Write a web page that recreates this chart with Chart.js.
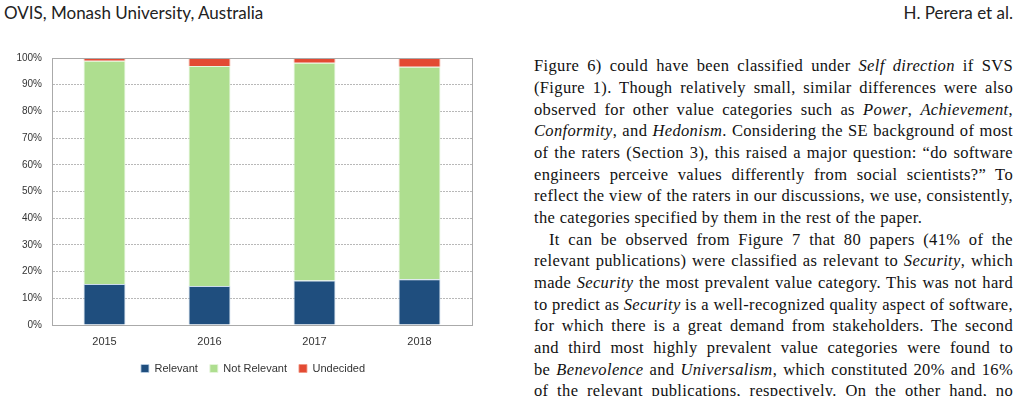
<!DOCTYPE html>
<html>
<head>
<meta charset="utf-8">
<script src="https://cdn.jsdelivr.net/npm/chart.js@4"></script>
<style>
  html, body { margin: 0; padding: 0; background: #fff; }
  body { width: 1022px; height: 396px; position: relative; overflow: hidden; }
  .hdr { position: absolute; top: 2px; font-family: Lato, sans-serif; font-size: 17px; color: #222; }
  #chartBox { position: absolute; left: 0; top: 42px; width: 506px; height: 342px; }
  #text { position: absolute; left: 534px; top: 55.3px; width: 479px;
          font-family: "Liberation Serif", serif; font-size: 16.5px; letter-spacing: 0.35px;
          line-height: 21.67px; color: #111; }
  #text div { white-space: nowrap; text-align: justify; text-align-last: justify; }
  #text div.last { text-align-last: left; }
  #text div.ind { text-indent: 15px; }
</style>
</head>
<body>
<div class="hdr" style="left:4px">OVIS, Monash University, Australia</div>
<div class="hdr" style="right:9px">H. Perera et al.</div>

<div id="chartBox"><canvas id="myChart"></canvas></div>

<div id="text">
  <div>Figure 6) could have been classified under <i>Self direction</i> if SVS</div>
  <div>(Figure 1). Though relatively small, similar differences were also</div>
  <div>observed for other value categories such as <i>Power</i>, <i>Achievement</i>,</div>
  <div><i>Conformity</i>, and <i>Hedonism</i>. Considering the SE background of most</div>
  <div>of the raters (Section 3), this raised a major question: “do software</div>
  <div>engineers perceive values differently from social scientists?” To</div>
  <div>reflect the view of the raters in our discussions, we use, consistently,</div>
  <div class="last">the categories specified by them in the rest of the paper.</div>
  <div class="ind">It can be observed from Figure 7 that 80 papers (41% of the</div>
  <div>relevant publications) were classified as relevant to <i>Security</i>, which</div>
  <div>made <i>Security</i> the most prevalent value category. This was not hard</div>
  <div>to predict as <i>Security</i> is a well-recognized quality aspect of software,</div>
  <div>for which there is a great demand from stakeholders. The second</div>
  <div>and third most highly prevalent value categories were found to</div>
  <div>be <i>Benevolence</i> and <i>Universalism</i>, which constituted 20% and 16%</div>
  <div>of the relevant publications, respectively. On the other hand, no</div>
</div>

<script>
const years = ['2015', '2016', '2017', '2018'];
const relevant = [15.4, 14.6, 16.7, 17.1];
const notRelevant = [83.6, 82.4, 81.5, 79.6];
const undecided = [1.0, 3.0, 1.8, 3.3];

// top edge of the plot area
const frame = {
    id: 'frame',
    afterDraw(chart) {
        const a = chart.chartArea;
        const c = chart.ctx;
        c.save();
        c.strokeStyle = '#aaaaaa';
        c.lineWidth = 1;
        c.beginPath();
        c.moveTo(a.left, a.top + 0.5);
        c.lineTo(a.right, a.top + 0.5);
        c.stroke();
        c.restore();
    }
};

const ctx = document.getElementById('myChart').getContext('2d');
const chart = new Chart(ctx, {
    type: 'bar',
    data: {
        labels: years,
        datasets: [{
            label: 'Relevant',
            data: relevant,
            backgroundColor: '#1f4e7e',
            borderColor: 'rgba(190, 210, 230, 0.8)',
            borderWidth: 1
        }, {
            label: 'Not Relevant',
            data: notRelevant,
            backgroundColor: '#aede8f',
            borderColor: 'rgba(230, 245, 220, 0.9)',
            borderWidth: 1
        }, {
            label: 'Undecided',
            data: undecided,
            backgroundColor: '#e34a33',
            borderColor: 'rgba(240, 150, 130, 0.8)',
            borderWidth: 1
        }]
    },
    options: {
        maintainAspectRatio: false,
        animation: false,
        categoryPercentage: 1,
        barPercentage: 0.4,
        layout: { padding: { top: 12, right: 0, bottom: 0, left: 0 } },
        plugins: {
            tooltip: { enabled: false },
            legend: {
                position: 'bottom',
                labels: {
                    boxWidth: 8,
                    boxHeight: 8,
                    padding: 12,
                    color: '#333',
                    font: { family: 'Liberation Sans', size: 11 }
                }
            }
        },
        scales: {
            x: {
                stacked: true,
                grid: { display: false },
                border: { display: true, color: '#aaaaaa' },
                ticks: { color: '#333', padding: 2, font: { family: 'Liberation Sans', size: 11 } },
                afterFit: s => { s.height = 26; }
            },
            y: {
                stacked: true,
                min: 0,
                max: 100,
                ticks: {
                    stepSize: 10,
                    padding: 10,
                    color: '#333',
                    font: { family: 'Liberation Sans', size: 10 },
                    callback: v => v + '%'
                },
                grid: { color: '#b8b8b8', drawTicks: false },
                border: { display: true, color: '#aaaaaa', dash: [2, 1] },
                afterFit: s => { s.width = 52; }
            },
            y2: {
                position: 'right',
                min: 0,
                max: 100,
                ticks: { display: false },
                grid: { display: false },
                border: { display: true, color: '#aaaaaa' },
                afterFit: s => { s.width = 34; }
            }
        }
    },
    plugins: [frame]
});
</script>
</body>
</html>
